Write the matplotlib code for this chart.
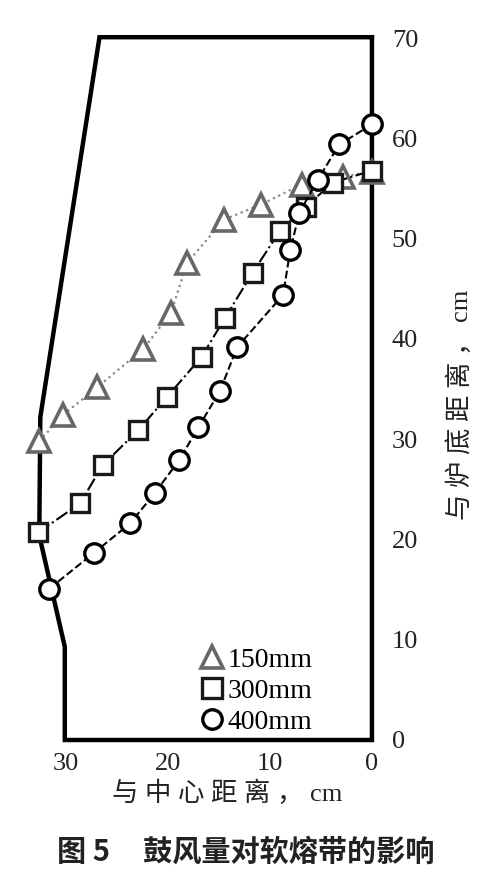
"""Softening-melting zone vs. blast volume (figure 5)."""

import matplotlib
matplotlib.use("Agg")
import matplotlib.pyplot as plt
from matplotlib.lines import Line2D

plt.rcParams["font.family"] = ["Liberation Serif", "Noto Sans CJK SC", "DejaVu Sans"]

# Furnace wall outline (distance from centre, height from hearth), cm
wall_x = [0.0, 26.7, 32.5, 32.6, 30.1, 30.1, 0.0, 0.0]
wall_y = [70.1, 70.1, 32.2, 20.4, 9.3, 0.0, 0.0, 70.1]

# 150 mm
tri_x = [32.6, 30.3, 26.9, 22.4, 19.7, 18.1, 14.5, 10.9, 6.9, 2.8, 0.0]
tri_y = [29.8, 32.4, 35.2, 39.0, 42.6, 47.6, 51.9, 53.4, 55.4, 56.2, 56.7]

# 300 mm
sq_x = [32.7, 28.6, 26.4, 22.9, 20.1, 16.7, 14.4, 11.7, 9.0, 6.5, 3.8, 0.0]
sq_y = [20.7, 23.6, 27.4, 30.9, 34.2, 38.2, 42.1, 46.6, 50.8, 53.2, 55.6, 56.8]

# 400 mm
ci_x = [31.6, 27.2, 23.7, 21.3, 18.9, 17.0, 14.9, 13.2, 8.7, 8.0, 7.1, 5.3, 3.2, 0.0]
ci_y = [15.1, 18.7, 21.6, 24.6, 27.9, 31.2, 34.8, 39.2, 44.4, 48.9, 52.6, 55.9, 59.4, 61.4]

labels = ["150mm", "300mm", "400mm"]
x_ticks = [30, 20, 10, 0]
y_ticks = [0, 10, 20, 30, 40, 50, 60, 70]

fig = plt.figure(figsize=(4.93, 8.8), dpi=100)
ax = fig.add_axes([0.0507, 0.1477, 0.730, 0.818])

ax.plot(wall_x, wall_y, color="black", lw=3.2, solid_joinstyle="miter", zorder=1)

gray = "#676767"
ax.plot(tri_x, tri_y, ls=":", color="#8a8a8a", lw=1.6, marker="^", ms=16,
        mfc="white", mec=gray, mew=2.6, zorder=3)
ax.plot(sq_x, sq_y, ls="-.", color="black", lw=1.5, marker="s", ms=13,
        mfc="white", mec="#1a1a1a", mew=2.4, zorder=3)
ax.plot(ci_x, ci_y, ls="--", color="black", lw=1.5, marker="o", ms=14,
        mfc="white", mec="black", mew=2.4, zorder=4)

ax.set_xlim(34.0, -1.27)
ax.set_ylim(-1.0, 70.8)
for s in ax.spines.values():
    s.set_visible(False)

ax.set_xticks(x_ticks)
ax.set_yticks(y_ticks)
ax.yaxis.tick_right()
ax.tick_params(axis="both", length=0, colors="#222222", labelsize=19)
ax.tick_params(axis="x", pad=2)
ax.tick_params(axis="y", pad=5)

fig.text(0.4604, 0.0989, "与 中 心 距 离 ， cm", ha="center", va="center",
         fontsize=19, color="#222222")
fig.text(0.933, 0.540, "与 炉 底 距 离 ， cm", ha="center", va="center",
         rotation=90, fontsize=19, color="#222222")

handles = [
    Line2D([], [], ls="none", marker="^", ms=16, mfc="white", mec=gray, mew=2.6),
    Line2D([], [], ls="none", marker="s", ms=14, mfc="white", mec="#1a1a1a", mew=2.4),
    Line2D([], [], ls="none", marker="o", ms=14, mfc="white", mec="black", mew=2.4),
]
ax.legend(handles, labels, loc="upper left", bbox_to_anchor=(0.485, 0.143),
          frameon=False, fontsize=20, handlelength=0.9, handletextpad=0.1,
          labelspacing=0.2, borderpad=0, borderaxespad=0)

fig.text(0.499, 0.0318, "图 5     鼓风量对软熔带的影响", ha="center", va="center",
         fontsize=21, fontweight="bold", family=["Noto Sans CJK SC", "DejaVu Sans"],
         color="#222222")

fig.savefig("out.png", dpi=100)
